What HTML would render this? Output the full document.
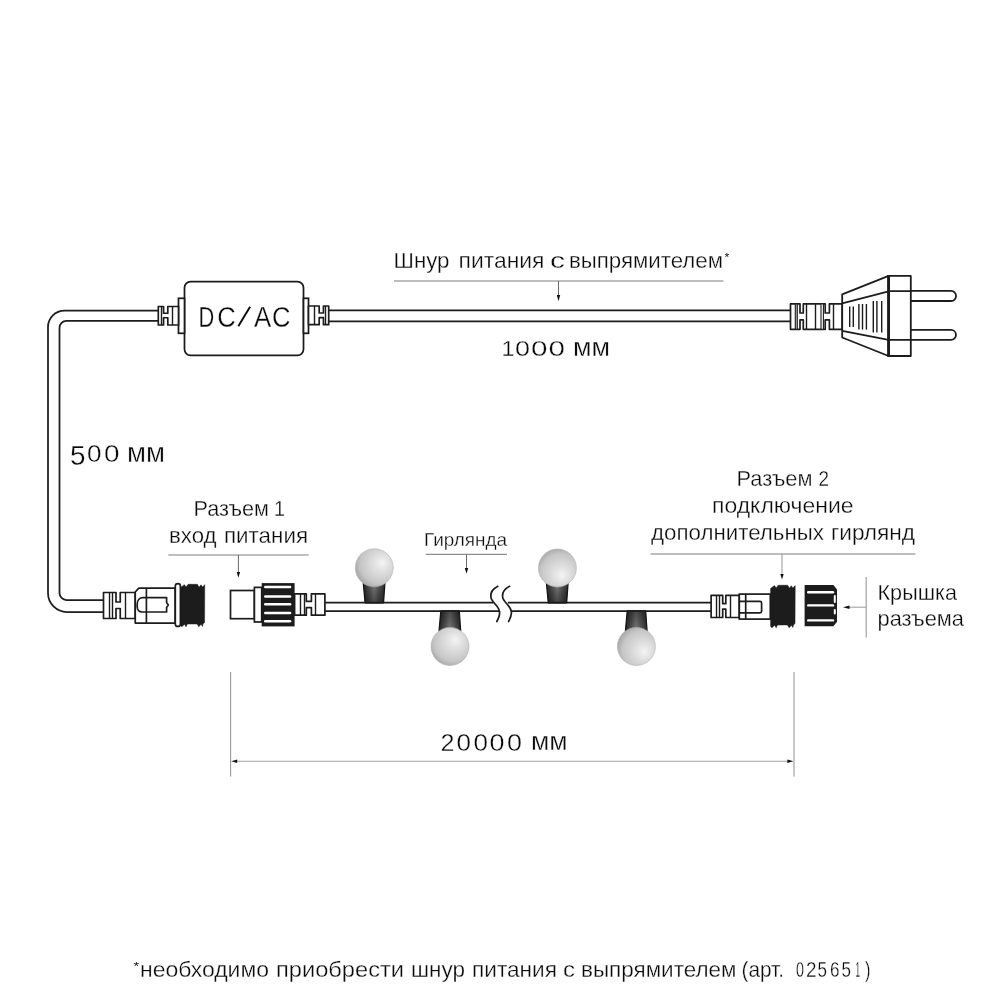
<!DOCTYPE html>
<html><head><meta charset="utf-8">
<style>
html,body{margin:0;padding:0;background:#fff;width:1000px;height:1000px;overflow:hidden}
svg{display:block;will-change:transform}
text{font-family:"Liberation Sans",sans-serif;fill:#0a0a0a}
</style></head><body>
<svg width="1000" height="1000" viewBox="0 0 1000 1000">
<rect width="1000" height="1000" fill="#fff"/>
<defs>
<radialGradient id="bulb0" cx="0.632" cy="0.416" r="0.72" fx="0.72" fy="0.36">
<stop offset="0" stop-color="#f4f4f4"/>
<stop offset="0.3" stop-color="#e0e0e0"/>
<stop offset="0.72" stop-color="#c6c6c6"/>
<stop offset="1" stop-color="#9a9a9a"/>
</radialGradient>
<radialGradient id="bulb1" cx="0.584" cy="0.392" r="0.72" fx="0.64" fy="0.32">
<stop offset="0" stop-color="#f4f4f4"/>
<stop offset="0.3" stop-color="#e0e0e0"/>
<stop offset="0.72" stop-color="#c6c6c6"/>
<stop offset="1" stop-color="#9a9a9a"/>
</radialGradient>
<radialGradient id="bulb2" cx="0.572" cy="0.620" r="0.72" fx="0.62" fy="0.7">
<stop offset="0" stop-color="#f4f4f4"/>
<stop offset="0.3" stop-color="#e0e0e0"/>
<stop offset="0.72" stop-color="#c6c6c6"/>
<stop offset="1" stop-color="#9a9a9a"/>
</radialGradient>
<radialGradient id="bulb3" cx="0.632" cy="0.584" r="0.72" fx="0.72" fy="0.64">
<stop offset="0" stop-color="#f4f4f4"/>
<stop offset="0.3" stop-color="#e0e0e0"/>
<stop offset="0.72" stop-color="#c6c6c6"/>
<stop offset="1" stop-color="#9a9a9a"/>
</radialGradient>

<linearGradient id="sock" x1="0" x2="1" y1="0" y2="0">
<stop offset="0" stop-color="#252525"/>
<stop offset="0.5" stop-color="#7a7a7a"/>
<stop offset="1" stop-color="#2c2c2c"/>
</linearGradient>
<linearGradient id="shadeUp" x1="0" x2="0" y1="0" y2="1">
<stop offset="0" stop-color="#000" stop-opacity="0"/>
<stop offset="1" stop-color="#000" stop-opacity="0.4"/>
</linearGradient>
<linearGradient id="shadeDn" x1="0" x2="0" y1="0" y2="1">
<stop offset="0" stop-color="#000" stop-opacity="0.4"/>
<stop offset="1" stop-color="#000" stop-opacity="0"/>
</linearGradient>
</defs>

<g fill="none" stroke="#1c1c1c" stroke-width="1.75">
<path d="M158.5,310.5 H64.5 A16.5,16.5 0 0 0 48,327 V593 A19,19 0 0 0 67,612 H104"/>
<path d="M158.5,320.8 H66.5 A7,7 0 0 0 59.5,327.8 V593 A7,7 0 0 0 66.5,600 H104"/>
<path d="M328.5,310.3 H790.5 M328.5,321.3 H790.5"/>
<path d="M324.5,602.6 H493.5 M324.5,611 H499.3"/>
<path d="M507.8,602.6 H711.5 M511.3,611 H711.5"/>
</g>
<g fill="none" stroke="#1c1c1c" stroke-width="1.7" stroke-linecap="round">
<path transform="translate(0,0)" d="M497.8,586.3 C493,588.8 490,592 490.9,597.3 C491.8,602.3 499.2,606 499.6,612 C499.9,615.5 498.5,618.5 496.8,621.5"/>
<path transform="translate(11.8,0)" d="M497.8,586.3 C493,588.8 490,592 490.9,597.3 C491.8,602.3 499.2,606 499.6,612 C499.9,615.5 498.5,618.5 496.8,621.5"/>
</g>
<g fill="#fff" stroke="#1c1c1c" stroke-width="1.75">
<rect x="184.5" y="281.5" width="119" height="73.8" rx="6"/>
<rect x="178.5" y="298.3" width="6" height="35"/>
<rect x="303.5" y="298.3" width="5" height="35"/>
</g>
<path d="M158.3,306.5 H163.55 V313.25 H167.8 V306.5 H178.5 V325.0 H167.8 V317.75 H163.55 V325.0 H158.3 Z" fill="#fff" stroke="#1c1c1c" stroke-width="1.7" stroke-linejoin="round"/>
<line x1="161.5" y1="306.5" x2="161.5" y2="325.0" stroke="#1c1c1c" stroke-width="1.4"/>
<line x1="172.5" y1="306.5" x2="172.5" y2="325.0" stroke="#1c1c1c" stroke-width="1.4"/>
<path d="M328.7,306.0 H323.45 V313.0 H319.2 V306.0 H308.5 V324.7 H319.2 V317.7 H323.45 V324.7 H328.7 Z" fill="#fff" stroke="#1c1c1c" stroke-width="1.7" stroke-linejoin="round"/>
<line x1="325.5" y1="306.0" x2="325.5" y2="324.7" stroke="#1c1c1c" stroke-width="1.4"/>
<line x1="314.5" y1="306.0" x2="314.5" y2="324.7" stroke="#1c1c1c" stroke-width="1.4"/>
<path d="M790.5,303.9 H800 V313 H803.3 V303.9 H825.2 V313 H829.4 V303.9 H842.3 V329.29999999999995 H829.4 V319.9 H825.2 V329.29999999999995 H803.3 V319.9 H800 V329.29999999999995 H790.5 Z" fill="#fff" stroke="#1c1c1c" stroke-width="1.7" stroke-linejoin="round"/>
<rect x="795.3" y="303.9" width="2" height="25.4" fill="#bdbdbd" stroke="#1c1c1c" stroke-width="1.1"/>
<rect x="821" y="303.9" width="2.4" height="25.4" fill="#fff" stroke="#1c1c1c" stroke-width="1.1"/>
<line x1="806.5" y1="303.9" x2="806.5" y2="329.29999999999995" stroke="#1c1c1c" stroke-width="1.4"/>
<line x1="815.5" y1="303.9" x2="815.5" y2="329.29999999999995" stroke="#1c1c1c" stroke-width="1.4"/>
<line x1="833.5" y1="303.9" x2="833.5" y2="329.29999999999995" stroke="#1c1c1c" stroke-width="1.4"/>
<g fill="#fff" stroke="#1c1c1c" stroke-width="1.8" stroke-linejoin="round">
<path d="M842.2,294.3 L888.6,275.9 V356 L842.2,337.5 Z"/>
<path d="M842.2,303.3 L888.6,291.4 M842.2,330.8 L888.6,339.8" fill="none"/>
<path d="M910.8,290.9 H951 A5,5 0 0 1 951,301 H910.8"/>
<path d="M910.8,329.9 H951 A5,5 0 0 1 951,339.9 H910.8"/>
<rect x="888.6" y="275.9" width="22.2" height="80.1"/>
<path d="M888.6,291.2 H910.8 M888.6,339.9 H910.8" fill="none"/>
</g>
<line x1="888.6" y1="275" x2="888.6" y2="357" stroke="#1c1c1c" stroke-width="2.8"/>
<g stroke="#1c1c1c" stroke-width="1.4">
<line x1="849.7" y1="306.5" x2="849.7" y2="326.9"/>
<line x1="853.3" y1="306.5" x2="853.3" y2="326.9"/>
<line x1="858.9" y1="304" x2="858.9" y2="329.6"/>
<line x1="862.5" y1="304" x2="862.5" y2="329.6"/>
<line x1="866.4" y1="304" x2="866.4" y2="329.6"/>
<line x1="873.3" y1="301" x2="873.3" y2="332.6"/>
<line x1="876.9" y1="301" x2="876.9" y2="332.6"/>
<line x1="881.7" y1="301" x2="881.7" y2="332.6"/>
</g>
<path d="M103.5,592.5 H116 V602 H120.25 V592.5 H135.25 V618.5 H120.25 V608.5 H116 V618.5 H103.5 Z" fill="#fff" stroke="#1c1c1c" stroke-width="1.7" stroke-linejoin="round"/>
<line x1="109.5" y1="592.5" x2="109.5" y2="618.5" stroke="#1c1c1c" stroke-width="1.4"/>
<line x1="112.5" y1="592.5" x2="112.5" y2="618.5" stroke="#1c1c1c" stroke-width="1.4"/>
<line x1="125.5" y1="592.5" x2="125.5" y2="618.5" stroke="#1c1c1c" stroke-width="1.4"/>
<g fill="#fff" stroke="#1c1c1c" stroke-width="1.7" stroke-linejoin="round">
<path d="M135.25,592 L138.8,588.2 H175.2 V623.1 H135.25 Z"/>
<path d="M143,597.6 H166.6 V602.5 L168.3,605 L166.6,607.5 V612 H142 C139,612 137.2,609.5 137.2,606.8 V604 C137.2,600.5 139.5,597.6 143,597.6 Z"/>
<path d="M146.4,588.2 V623.1" fill="none"/>
<rect x="175.3" y="583.6" width="5.1" height="42.8" rx="2.5"/>
</g>
<path d="M180.6,587.45 L184.41,584.65 L186.08,586.95 L188.13,584.3 L197.37,584.3 L199.08,587.25 L200.94,584.85 L202.5,587.05 L204.75,584.65 L204.55,622.6 L202.99,624.0 L202.5,626.5 L201.03,624.2 L198.79,626.8 L197.12,624.0 L187.35,624.0 L186.08,626.8 L184.41,624.2 L181.97,626.8 L180.6,625.5 Z" fill="#1c1c1c" stroke="#1c1c1c" stroke-width="0.5" stroke-linejoin="round"/>
<g fill="#fff" stroke="#1c1c1c" stroke-width="1.7">
<rect x="230.5" y="590.5" width="23.9" height="28.2"/>
<rect x="254.4" y="587.4" width="7.3" height="34.6"/>
</g>
<rect x="261.7" y="583.1" width="32.9" height="43.3" fill="#1c1c1c"/>
<rect x="264" y="585.75" width="27.3" height="2.5" rx="1.25" fill="#fff"/>
<rect x="264" y="595.35" width="27.3" height="2.5" rx="1.25" fill="#fff"/>
<rect x="264" y="602.95" width="27.3" height="2.5" rx="1.25" fill="#fff"/>
<rect x="264" y="611.65" width="27.3" height="2.5" rx="1.25" fill="#fff"/>
<rect x="264" y="619.95" width="27.3" height="2.5" rx="1.25" fill="#fff"/>
<path d="M294.6,593.9 H306.3 V601.4 H311.40000000000003 V593.9 H324.90000000000003 V615.1999999999999 H311.40000000000003 V607.6999999999999 H306.3 V615.1999999999999 H294.6 Z" fill="#fff" stroke="#1c1c1c" stroke-width="1.7" stroke-linejoin="round"/>
<line x1="300.5" y1="593.9" x2="300.5" y2="615.1999999999999" stroke="#1c1c1c" stroke-width="1.4"/>
<line x1="315.5" y1="593.9" x2="315.5" y2="615.1999999999999" stroke="#1c1c1c" stroke-width="1.4"/>
<line x1="304.5" y1="593.9" x2="304.5" y2="615.1999999999999" stroke="#1c1c1c" stroke-width="1.4"/>
<path d="M363.25,583 L384.95,583 L383.55,602.6 L365.05,602.6 Z" fill="url(#sock)"/>
<path d="M363.25,583 L384.95,583 L383.55,602.6 L365.05,602.6 Z" fill="url(#shadeUp)" stroke="#141414" stroke-width="1.2" stroke-linejoin="round"/>
<circle cx="374.25" cy="567.8" r="19" fill="url(#bulb0)" stroke="#b4b4b4" stroke-width="0.6"/>
<path d="M440.8,611 L459.3,611 L460.7,631 L439.0,631 Z" fill="url(#sock)"/>
<path d="M440.8,611 L459.3,611 L460.7,631 L439.0,631 Z" fill="url(#shadeDn)" stroke="#141414" stroke-width="1.2" stroke-linejoin="round"/>
<circle cx="450.0" cy="646.5" r="19" fill="url(#bulb1)" stroke="#b4b4b4" stroke-width="0.6"/>
<path d="M546.4,583 L568.1,583 L566.6999999999999,602.6 L548.1999999999999,602.6 Z" fill="url(#sock)"/>
<path d="M546.4,583 L568.1,583 L566.6999999999999,602.6 L548.1999999999999,602.6 Z" fill="url(#shadeUp)" stroke="#141414" stroke-width="1.2" stroke-linejoin="round"/>
<circle cx="557.4" cy="568.0" r="19" fill="url(#bulb2)" stroke="#b4b4b4" stroke-width="0.6"/>
<path d="M627.1999999999999,611 L645.6999999999999,611 L647.1,631 L625.4,631 Z" fill="url(#sock)"/>
<path d="M627.1999999999999,611 L645.6999999999999,611 L647.1,631 L625.4,631 Z" fill="url(#shadeDn)" stroke="#141414" stroke-width="1.2" stroke-linejoin="round"/>
<circle cx="636.4" cy="646.5" r="19" fill="url(#bulb3)" stroke="#b4b4b4" stroke-width="0.6"/>
<path d="M365,602.6 H383.5 M441,611 H459.5 M548,602.6 H566.5 M627,611 H645.5" stroke="#1c1c1c" stroke-width="1.6"/>
<path d="M711.1,595.3 H722.7 V603.6999999999999 H725.8000000000001 V595.3 H739.3000000000001 V617.5 H725.8000000000001 V609.1 H722.7 V617.5 H711.1 Z" fill="#fff" stroke="#1c1c1c" stroke-width="1.7" stroke-linejoin="round"/>
<line x1="716.5" y1="595.3" x2="716.5" y2="617.5" stroke="#1c1c1c" stroke-width="1.4"/>
<line x1="730.5" y1="595.3" x2="730.5" y2="617.5" stroke="#1c1c1c" stroke-width="1.4"/>
<line x1="719.5" y1="595.3" x2="719.5" y2="617.5" stroke="#1c1c1c" stroke-width="1.4"/>
<g fill="#fff" stroke="#1c1c1c" stroke-width="1.7">
<rect x="739.3" y="594.1" width="31" height="25"/>
<path d="M745.7,594.1 V619.1" fill="none"/>
<path d="M739.3,601.4 H760 Q761.6,601.4 761.6,603 V611.2 Q761.6,612.8 760,612.8 H739.3" fill="none"/>
</g>
<path d="M770.6,588.4 L774.48,585.6 L776.18,587.9 L778.27,585.25 L787.68,585.25 L789.42,588.2 L791.32,585.8 L792.91,588.0 L795.2,585.6 L795.0,623.6 L793.41,625.0 L792.91,627.5 L791.42,625.2 L789.12,627.8 L787.43,625.0 L777.47,625.0 L776.18,627.8 L774.48,625.2 L771.99,627.8 L770.6,626.5 Z" fill="#1c1c1c" stroke="#1c1c1c" stroke-width="0.5" stroke-linejoin="round"/>
<path d="M804.6,585 H833.4 L837,589.4 V621.8 L833.4,626.2 H804.6 Z" fill="#1c1c1c"/>
<rect x="807" y="591.0" width="27.2" height="2.4" rx="1.2" fill="#fff"/>
<rect x="807" y="604.1999999999999" width="27.2" height="2.4" rx="1.2" fill="#fff"/>
<rect x="807" y="619.1999999999999" width="27.2" height="2.4" rx="1.2" fill="#fff"/>
<rect x="833.8" y="595" width="2" height="8" rx="1" fill="#fff"/>
<rect x="833.8" y="609" width="2" height="5.6" rx="1" fill="#fff"/>
<g stroke="#a9a9a9" stroke-width="1.5">
<line x1="394" y1="280.9" x2="723.5" y2="280.9"/>
<line x1="168.3" y1="554.9" x2="308.6" y2="554.9"/>
<line x1="650.6" y1="554.1" x2="915.5" y2="554.1"/>
</g>
<line x1="425.8" y1="554.4" x2="507" y2="554.4" stroke="#8e8e8e" stroke-width="1.3"/>
<g stroke="#9a9a9a" stroke-width="1.1">
<line x1="866.2" y1="577" x2="866.2" y2="637.4"/>
<line x1="230.6" y1="672" x2="230.6" y2="776.6"/>
<line x1="794" y1="672" x2="794" y2="776.4"/>
</g>
<g stroke="#6a6a6a" stroke-width="1">
<line x1="558.5" y1="281" x2="558.5" y2="296"/>
<line x1="238.4" y1="555" x2="238.4" y2="573"/>
<line x1="466.5" y1="554.5" x2="466.5" y2="569"/>
</g>
<g stroke="#a0a0a0" stroke-width="1.1">
<line x1="782" y1="554" x2="782" y2="575"/>
<line x1="866.2" y1="607.2" x2="849" y2="607.2"/>
<line x1="236" y1="761.2" x2="789" y2="761.2"/>
</g>
<g fill="#111">
<path d="M556.8,295 L560.2,295 L558.5,301.3 Z"/>
<path d="M236.70000000000002,572 L240.1,572 L238.4,577.7 Z"/>
<path d="M464.8,568 L468.2,568 L466.5,573.8 Z"/>
<path d="M780.3,574.1 L783.7,574.1 L782,579.4 Z"/>
<path d="M843,607.2 L849.5,605.5 L849.5,608.9 Z"/>
<path d="M231.2,761.2 L237.2,759.5 L237.2,762.9 Z"/>
<path d="M793.4,761.2 L787.4,759.5 L787.4,762.9 Z"/>
</g>
<line x1="238.3" y1="326.2" x2="250.1" y2="306.7" stroke="#0a0a0a" stroke-width="1.9"/>
<text x="393.5" y="267.6" font-size="22" textLength="56.0" lengthAdjust="spacingAndGlyphs" stroke="#fff" stroke-width="0.3">Шнур</text>
<text x="458.5" y="267.6" font-size="22" textLength="86.0" lengthAdjust="spacingAndGlyphs" stroke="#fff" stroke-width="0.3">питания</text>
<text x="550.0" y="267.6" font-size="22" textLength="15.0" lengthAdjust="spacingAndGlyphs" stroke="#fff" stroke-width="0.3">с</text>
<text x="569.0" y="267.6" font-size="22" textLength="154.0" lengthAdjust="spacingAndGlyphs" stroke="#fff" stroke-width="0.3">выпрямителем</text>
<text x="501.5" y="356.3" font-size="22.8" textLength="13.0" lengthAdjust="spacingAndGlyphs" stroke="#fff" stroke-width="0.3">1</text>
<text x="515.0" y="356.3" font-size="22.8" textLength="15.0" lengthAdjust="spacingAndGlyphs" stroke="#fff" stroke-width="0.3">0</text>
<text x="531.0" y="356.3" font-size="22.8" textLength="16.5" lengthAdjust="spacingAndGlyphs" stroke="#fff" stroke-width="0.3">0</text>
<text x="548.5" y="356.3" font-size="22.8" textLength="16.5" lengthAdjust="spacingAndGlyphs" stroke="#fff" stroke-width="0.3">0</text>
<text x="573.0" y="356.0" font-size="26" textLength="37.0" lengthAdjust="spacingAndGlyphs" stroke="#fff" stroke-width="0.3">мм</text>
<text x="70.0" y="465.2" font-size="27.5" textLength="15.5" lengthAdjust="spacingAndGlyphs" stroke="#fff" stroke-width="0.3">5</text>
<text x="87.0" y="461.8" font-size="23.5" textLength="14.5" lengthAdjust="spacingAndGlyphs" stroke="#fff" stroke-width="0.3">0</text>
<text x="104.0" y="461.8" font-size="23.5" textLength="15.5" lengthAdjust="spacingAndGlyphs" stroke="#fff" stroke-width="0.3">0</text>
<text x="127.0" y="461.7" font-size="27.4" textLength="38.0" lengthAdjust="spacingAndGlyphs" stroke="#fff" stroke-width="0.3">мм</text>
<text x="440.5" y="750.5" font-size="23.3" textLength="14.0" lengthAdjust="spacingAndGlyphs" stroke="#fff" stroke-width="0.3">2</text>
<text x="456.5" y="750.5" font-size="23.3" textLength="14.5" lengthAdjust="spacingAndGlyphs" stroke="#fff" stroke-width="0.3">0</text>
<text x="473.5" y="750.5" font-size="23.3" textLength="14.5" lengthAdjust="spacingAndGlyphs" stroke="#fff" stroke-width="0.3">0</text>
<text x="489.5" y="750.5" font-size="23.3" textLength="15.0" lengthAdjust="spacingAndGlyphs" stroke="#fff" stroke-width="0.3">0</text>
<text x="507.0" y="750.5" font-size="23.3" textLength="15.0" lengthAdjust="spacingAndGlyphs" stroke="#fff" stroke-width="0.3">0</text>
<text x="531.0" y="750.3" font-size="26.5" textLength="36.5" lengthAdjust="spacingAndGlyphs" stroke="#fff" stroke-width="0.3">мм</text>
<text x="193.5" y="516.2" font-size="22" textLength="75.5" lengthAdjust="spacingAndGlyphs" stroke="#fff" stroke-width="0.3">Разъем</text>
<text x="274.0" y="516.2" font-size="22" textLength="11.0" lengthAdjust="spacingAndGlyphs" stroke="#fff" stroke-width="0.3">1</text>
<text x="169.0" y="543.2" font-size="22" textLength="47.5" lengthAdjust="spacingAndGlyphs" stroke="#fff" stroke-width="0.3">вход</text>
<text x="224.0" y="543.2" font-size="22" textLength="84.0" lengthAdjust="spacingAndGlyphs" stroke="#fff" stroke-width="0.3">питания</text>
<text x="424.0" y="546.2" font-size="19" textLength="83.0" lengthAdjust="spacingAndGlyphs" stroke="#fff" stroke-width="0.3">Гирлянда</text>
<text x="736.5" y="485.8" font-size="21.4" textLength="76.0" lengthAdjust="spacingAndGlyphs" stroke="#fff" stroke-width="0.3">Разъем</text>
<text x="818.5" y="485.8" font-size="21.4" textLength="10.5" lengthAdjust="spacingAndGlyphs" stroke="#fff" stroke-width="0.3">2</text>
<text x="712.0" y="513.2" font-size="21.4" textLength="141.5" lengthAdjust="spacingAndGlyphs" stroke="#fff" stroke-width="0.3">подключение</text>
<text x="651.0" y="539.8" font-size="21.4" textLength="173.0" lengthAdjust="spacingAndGlyphs" stroke="#fff" stroke-width="0.3">дополнительных</text>
<text x="831.0" y="539.8" font-size="21.4" textLength="84.0" lengthAdjust="spacingAndGlyphs" stroke="#fff" stroke-width="0.3">гирлянд</text>
<text x="877.5" y="599.5" font-size="22.4" textLength="79.5" lengthAdjust="spacingAndGlyphs" stroke="#fff" stroke-width="0.3">Крышка</text>
<text x="877.5" y="625.5" font-size="22.4" textLength="86.5" lengthAdjust="spacingAndGlyphs" stroke="#fff" stroke-width="0.3">разъема</text>
<text x="140.0" y="976.6" font-size="21.5" textLength="129.0" lengthAdjust="spacingAndGlyphs" stroke="#fff" stroke-width="0.3">необходимо</text>
<text x="276.0" y="976.6" font-size="21.5" textLength="128.0" lengthAdjust="spacingAndGlyphs" stroke="#fff" stroke-width="0.3">приобрести</text>
<text x="411.0" y="976.6" font-size="21.5" textLength="54.0" lengthAdjust="spacingAndGlyphs" stroke="#fff" stroke-width="0.3">шнур</text>
<text x="472.0" y="976.6" font-size="21.5" textLength="85.0" lengthAdjust="spacingAndGlyphs" stroke="#fff" stroke-width="0.3">питания</text>
<text x="563.0" y="976.6" font-size="21.5" textLength="12.0" lengthAdjust="spacingAndGlyphs" stroke="#fff" stroke-width="0.3">с</text>
<text x="581.0" y="976.6" font-size="21.5" textLength="155.5" lengthAdjust="spacingAndGlyphs" stroke="#fff" stroke-width="0.3">выпрямителем</text>
<text x="741.5" y="976.6" font-size="21.5" textLength="42.5" lengthAdjust="spacingAndGlyphs" stroke="#fff" stroke-width="0.3">(арт.</text>
<text x="796.0" y="976.6" font-size="21.5" textLength="8.0" lengthAdjust="spacingAndGlyphs" stroke="#fff" stroke-width="0.3">0</text>
<text x="806.0" y="976.6" font-size="21.5" textLength="10.5" lengthAdjust="spacingAndGlyphs" stroke="#fff" stroke-width="0.3">2</text>
<text x="817.5" y="976.6" font-size="21.5" textLength="9.5" lengthAdjust="spacingAndGlyphs" stroke="#fff" stroke-width="0.3">5</text>
<text x="830.0" y="976.6" font-size="21.5" textLength="9.5" lengthAdjust="spacingAndGlyphs" stroke="#fff" stroke-width="0.3">6</text>
<text x="841.5" y="976.6" font-size="21.5" textLength="9.5" lengthAdjust="spacingAndGlyphs" stroke="#fff" stroke-width="0.3">5</text>
<text x="855.5" y="976.6" font-size="21.5" textLength="4.5" lengthAdjust="spacingAndGlyphs" stroke="#fff" stroke-width="0.3">1</text>
<text x="865.0" y="976.6" font-size="21.5" textLength="5.5" lengthAdjust="spacingAndGlyphs" stroke="#fff" stroke-width="0.3">)</text>
<text x="198.5" y="326.5" font-size="28.6" textLength="15.75" lengthAdjust="spacingAndGlyphs" stroke="#fff" stroke-width="0.3">D</text>
<text x="217.25" y="326.5" font-size="28.6" textLength="18.5" lengthAdjust="spacingAndGlyphs" stroke="#fff" stroke-width="0.3">C</text>
<text x="254.0" y="326.5" font-size="28.6" textLength="17.25" lengthAdjust="spacingAndGlyphs" stroke="#fff" stroke-width="0.3">A</text>
<text x="272.0" y="326.5" font-size="28.6" textLength="18.5" lengthAdjust="spacingAndGlyphs" stroke="#fff" stroke-width="0.3">C</text>
<text x="724.6" y="261.2" font-size="10" textLength="4.8" lengthAdjust="spacingAndGlyphs">*</text>
<text x="133.6" y="970.3" font-size="11" textLength="5.6" lengthAdjust="spacingAndGlyphs">*</text>
</svg>
</body></html>
